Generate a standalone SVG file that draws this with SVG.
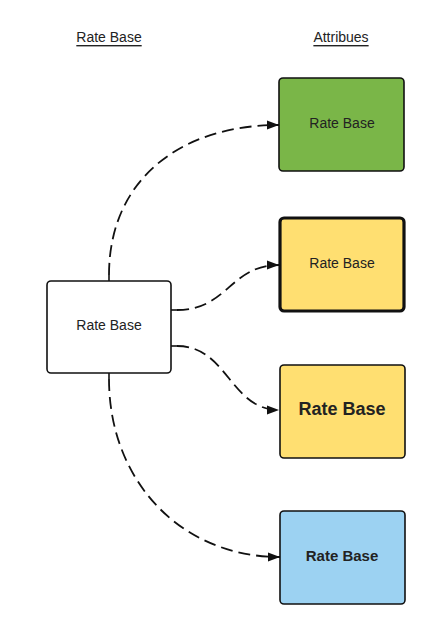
<svg xmlns="http://www.w3.org/2000/svg" width="448" height="623" viewBox="0 0 448 623">
<style>
text{font-family:"Liberation Sans",Arial,sans-serif;fill:#222;text-anchor:middle;dominant-baseline:central}
.hdr{font-size:14px;text-decoration:underline}
.lbl{font-size:14px}
.box{stroke:#111;stroke-width:1.6}
.conn{fill:none;stroke:#111;stroke-width:1.8;stroke-dasharray:12 6}
.stub{fill:none;stroke:#111;stroke-width:1.6}
</style>
<defs>
<marker id="arr" viewBox="0 0 12 10" refX="12" refY="5" markerWidth="12" markerHeight="10" markerUnits="userSpaceOnUse" orient="auto">
<path d="M0,0.5 L12,5 L0,9.5 Z" fill="#111"/>
</marker>
</defs>
<rect width="448" height="623" fill="#fff"/>
<text class="hdr" x="109" y="37">Rate Base</text>
<text class="hdr" x="341" y="37">Attribues</text>
<g id="connectors">
<path class="stub" d="M109,281 V275"/>
<path class="conn" d="M109,275 C109,180 180,125 279,125" marker-end="url(#arr)"/>
<path class="stub" d="M171,310 H177"/>
<path class="conn" d="M177,310 C228,310 230,265 279,265" marker-end="url(#arr)"/>
<path class="stub" d="M171,346 H177"/>
<path class="conn" d="M177,346 C228,346 230,410 279,410" marker-end="url(#arr)"/>
<path class="stub" d="M109,373 V379"/>
<path class="conn" d="M109,379 C109,480 180,557 280,557" marker-end="url(#arr)"/>
</g>
<g id="node-left">
<rect class="box" x="47" y="281" width="124" height="92" rx="4" fill="#fff"/>
<text class="lbl" x="109" y="325">Rate Base</text>
</g>
<g id="node-green">
<rect class="box" x="279" y="78" width="125" height="93" rx="4" fill="#7AB648"/>
<text class="lbl" x="342" y="123">Rate Base</text>
</g>
<g id="node-yellow1">
<rect x="280" y="218" width="124" height="93" rx="4" fill="#FFDF71" stroke="#111" stroke-width="3.2"/>
<text class="lbl" x="342" y="263">Rate Base</text>
</g>
<g id="node-yellow2">
<rect class="box" x="280" y="365" width="125" height="93" rx="4" fill="#FFDF71"/>
<text x="342" y="409" style="font-size:18px;font-weight:bold">Rate Base</text>
</g>
<g id="node-blue">
<rect class="box" x="280" y="511" width="125" height="93" rx="4" fill="#9CD2F2"/>
<text x="342" y="555" style="font-size:15px;font-weight:bold">Rate Base</text>
</g>
</svg>
